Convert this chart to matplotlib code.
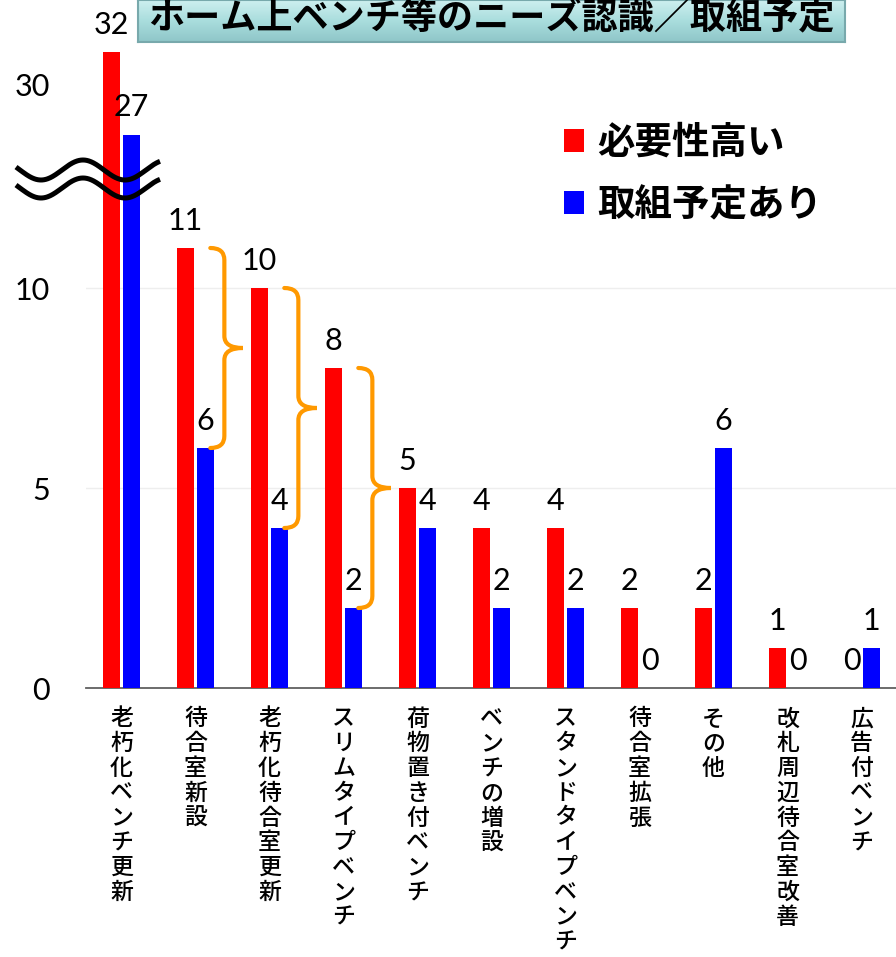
import numpy as np
import matplotlib
matplotlib.use('Agg')
import matplotlib.pyplot as plt
from matplotlib.path import Path
from matplotlib.patches import PathPatch, Patch
import matplotlib.colors as mcolors

categories = ["老朽化ベンチ更新", "待合室新設", "老朽化待合室更新", "スリムタイプベンチ",
              "荷物置き付ベンチ", "ベンチの増設", "スタンドタイプベンチ", "待合室拡張",
              "その他", "改札周辺待合室改善", "広告付ベンチ"]
need_high = [32, 11, 10, 8, 5, 4, 4, 2, 2, 1, 0]
planned = [27, 6, 4, 2, 4, 2, 2, 0, 6, 0, 1]
series_labels = ["必要性高い", "取組予定あり"]
title = "ホーム上ベンチ等のニーズ認識／取組予定"
lower_ticks = [0, 5, 10]
upper_ticks = [30]
brace_groups = [1, 2, 3]

CJK = ['Noto Sans CJK JP', 'DejaVu Sans']
NUM = ['Lato', 'DejaVu Sans']
RED = '#ff0000'
BLUE = '#0000ff'
ORANGE = '#ff9900'

W, H = 896, 957
fig = plt.figure(figsize=(W / 100, H / 100), dpi=100)
fig.patch.set_facecolor('white')


def fx(px):
    return px / W


def fy(py):
    return 1 - py / H


left_px, right_px = 86, 896
axis_y, break_y = 688, 180
lower_top = (axis_y - break_y) / 40.0          # 40 px per unit
upper_lo, upper_hi = 30 - (break_y - 85) / 16.5, 30 + 85 / 16.5

ax = fig.add_axes([fx(left_px), fy(axis_y), (right_px - left_px) / W, (axis_y - break_y) / H])
axu = fig.add_axes([fx(left_px), fy(break_y), (right_px - left_px) / W, break_y / H])

x = np.arange(len(categories))
off, w = 0.135, 0.23
xlim = ((left_px - 121.5) / 74, (right_px - 121.5) / 74)

for a in (ax, axu):
    a.bar(x - off, need_high, w, color=RED, zorder=3)
    a.bar(x + off, planned, w, color=BLUE, zorder=3)
    a.set_xlim(*xlim)
    for s in a.spines.values():
        s.set_visible(False)
    a.tick_params(length=0, pad=26)
    a.set_facecolor('none')

ax.set_ylim(0, lower_top)
axu.set_ylim(upper_lo, upper_hi)
ax.spines['bottom'].set_visible(True)
ax.spines['bottom'].set_color('#606060')
ax.spines['bottom'].set_linewidth(1.3)

for v in (5, 10):
    ax.axhline(v, color='#eeeeee', lw=1, zorder=1)

ax.set_yticks(lower_ticks)
ax.set_yticklabels([str(t) for t in lower_ticks], family=NUM, fontsize=22)
axu.set_yticks(upper_ticks)
axu.set_yticklabels([str(t) for t in upper_ticks], family=NUM, fontsize=22)
axu.set_xticks([])

ax.set_xticks(x)
ax.set_xticklabels(['\n'.join(c) for c in categories], family=CJK, fontsize=16.5,
                   weight='medium', va='top', linespacing=1.1)
ax.tick_params(axis='x', pad=14)

# value labels
for vals, o in ((need_high, -off), (planned, off)):
    for i, v in enumerate(vals):
        target = axu if v > lower_top else ax
        target.annotate(str(v), (i + o, v), xytext=(0, 13), textcoords='offset points',
                        ha='center', va='baseline', fontsize=22, family=NUM,
                        annotation_clip=False, zorder=5)

# braces
def brace(a, xl, xline, xtip, ytop, ybot, r=0.3):
    mid = (ytop + ybot) / 2
    verts = [(xl, ytop), (xline, ytop), (xline, ytop - r),
             (xline, mid + r),
             (xline, mid), (xtip, mid),
             (xline, mid), (xline, mid - r),
             (xline, ybot + r),
             (xline, ybot), (xl, ybot)]
    codes = [Path.MOVETO, Path.CURVE3, Path.CURVE3,
             Path.LINETO,
             Path.CURVE3, Path.CURVE3,
             Path.CURVE3, Path.CURVE3,
             Path.LINETO,
             Path.CURVE3, Path.CURVE3]
    a.add_patch(PathPatch(Path(verts, codes), fill=False, edgecolor=ORANGE, lw=3,
                          zorder=6, clip_on=False, capstyle='round'))


for g in brace_groups:
    brace(ax, g + 0.2, g + 0.39, g + 0.64, need_high[g], planned[g])

# legend
handles = [Patch(facecolor=RED, edgecolor='none'), Patch(facecolor=BLUE, edgecolor='none')]
fig.legend(handles, series_labels, loc='upper left', bbox_to_anchor=(fx(530), fy(89)),
           frameon=False, prop={'family': CJK, 'size': 27, 'weight': 'bold'},
           handlelength=0.55, handleheight=0.55, handletextpad=0.35, labelspacing=0.62)

# title box with gradient
tax = fig.add_axes([fx(138), fy(42), (845 - 138) / W, 42 / H])
cmap = mcolors.LinearSegmentedColormap.from_list('t', ['#cdefef', '#a9dddd', '#8fc6c8'])
tax.imshow(np.linspace(0, 1, 60).reshape(-1, 1), aspect='auto', cmap=cmap,
           extent=[0, 1, 0, 1], origin='upper')
tax.set_xticks([])
tax.set_yticks([])
for s in tax.spines.values():
    s.set_color('#78a9ac')
    s.set_linewidth(1.5)
fig.text(fx(491), fy(19), title, ha='center', va='center', fontsize=26,
         weight='bold', family=CJK)

# axis break waves
ov = fig.add_axes([0, 0, 1, 1])
ov.set_xlim(0, W)
ov.set_ylim(H, 0)
ov.axis('off')
xs = np.linspace(16, 160, 300)
for c in (170, 188):
    ov.plot(xs, c - 10 * np.cos(2 * np.pi * (xs - 83) / 84), color='black', lw=3.6,
            solid_capstyle='butt')

fig.savefig('out.png', dpi=100)
